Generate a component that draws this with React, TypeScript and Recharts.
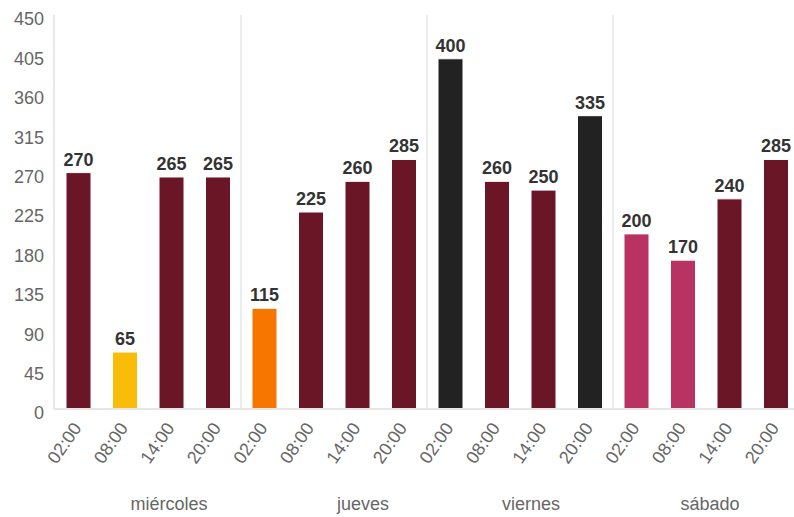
import React from 'react';
import { BarChart, Bar, XAxis, YAxis, Cell, LabelList, ReferenceLine } from 'recharts';

const days = ['miércoles', 'jueves', 'viernes', 'sábado'];
const hours = ['02:00', '08:00', '14:00', '20:00'];
const miercoles = [270, 65, 265, 265];
const jueves = [115, 225, 260, 285];
const viernes = [400, 260, 250, 335];
const sabado = [200, 170, 240, 285];
const yTicks = [0, 45, 90, 135, 180, 225, 270, 315, 360, 405, 450];

const MAROON = '#6B1627';
const YELLOW = '#F9BC08';
const ORANGE = '#F77600';
const BLACK = '#222222';
const PINK = '#B83262';
const barColors = [
  [MAROON, YELLOW, MAROON, MAROON],
  [ORANGE, MAROON, MAROON, MAROON],
  [BLACK, MAROON, MAROON, BLACK],
  [PINK, PINK, MAROON, MAROON],
];
const dayLabelNudge = [21, 29, 11, 4];

const series = [miercoles, jueves, viernes, sabado];
const perDay = hours.length;
const data = days.flatMap((d, di) =>
  hours.map((h, hi) => ({
    key: `${d}-${h}`,
    hour: h,
    day: d,
    slot: di * perDay + hi + 0.5,
    value: series[di][hi],
    color: barColors[di][hi],
  }))
);
const total = days.length * perDay;
const dayTicks = days.map((_, i) => i * perDay + perDay / 2);
const separators = days.slice(1).map((_, i) => (i + 1) * perDay);

const FONT = '"Liberation Sans", Arial, sans-serif';
const AXIS_GRAY = '#e6e6e6';

const HourTick = (props: any) => {
  const { x, y, payload } = props;
  const item = data.find((r) => r.key === payload.value);
  return (
    <g transform={`translate(${x + 4},${y + 19})`}>
      <text x={0} y={0} textAnchor="end" transform="rotate(-55)" fill="#666" fontSize={18} fontFamily={FONT}>
        {item ? item.hour : ''}
      </text>
    </g>
  );
};

const DayTick = (props: any) => {
  const { x, y, payload } = props;
  const idx = dayTicks.indexOf(payload.value);
  return (
    <text x={x + (dayLabelNudge[idx] || 0)} y={y + 41} textAnchor="middle" fill="#666" fontSize={18} fontFamily={FONT}>
      {days[idx]}
    </text>
  );
};

const YTick = (props: any) => {
  const { x, y, payload } = props;
  return (
    <text x={x} y={y + 4} dy="0.35em" textAnchor="end" fill="#666" fontSize={18} fontFamily={FONT}>
      {payload.value}
    </text>
  );
};

export default function App() {
  return (
    <div style={{ position: 'absolute', left: 0, top: 0, width: 794, height: 517, overflow: 'hidden', background: '#fff' }}>
      <BarChart width={799} height={517} data={data} margin={{ top: 15, right: 0, bottom: 0, left: 0 }}>
        <XAxis
          dataKey="key"
          type="category"
          interval={0}
          height={60}
          padding={{ left: 1, right: 0 }}
          tickSize={0}
          tickMargin={0}
          tickLine={false}
          axisLine={{ stroke: AXIS_GRAY, strokeWidth: 2 }}
          tick={<HourTick />}
        />
        <XAxis
          xAxisId="day"
          dataKey="slot"
          type="number"
          domain={[0, total]}
          ticks={dayTicks}
          allowDataOverflow
          interval={0}
          height={48}
          padding={{ left: 1, right: 0 }}
          tickSize={0}
          tickMargin={0}
          tickLine={false}
          axisLine={false}
          tick={<DayTick />}
        />
        <YAxis
          type="number"
          domain={[0, 450]}
          ticks={yTicks}
          width={54}
          tickSize={0}
          tickMargin={10}
          tickLine={false}
          axisLine={{ stroke: AXIS_GRAY, strokeWidth: 2 }}
          tick={<YTick />}
        />
        {separators.map((s) => (
          <ReferenceLine key={s} x={s} xAxisId="day" stroke={AXIS_GRAY} strokeWidth={1.5} />
        ))}
        <Bar dataKey="value" barSize={25} isAnimationActive={false}>
          {data.map((r) => (
            <Cell key={r.key} fill={r.color} stroke="#ffffff" strokeWidth={1} />
          ))}
          <LabelList
            dataKey="value"
            position="top"
            offset={7}
            fill="#333"
            fontSize={18}
            fontWeight="bold"
            fontFamily={FONT}
          />
        </Bar>
      </BarChart>
    </div>
  );
}
